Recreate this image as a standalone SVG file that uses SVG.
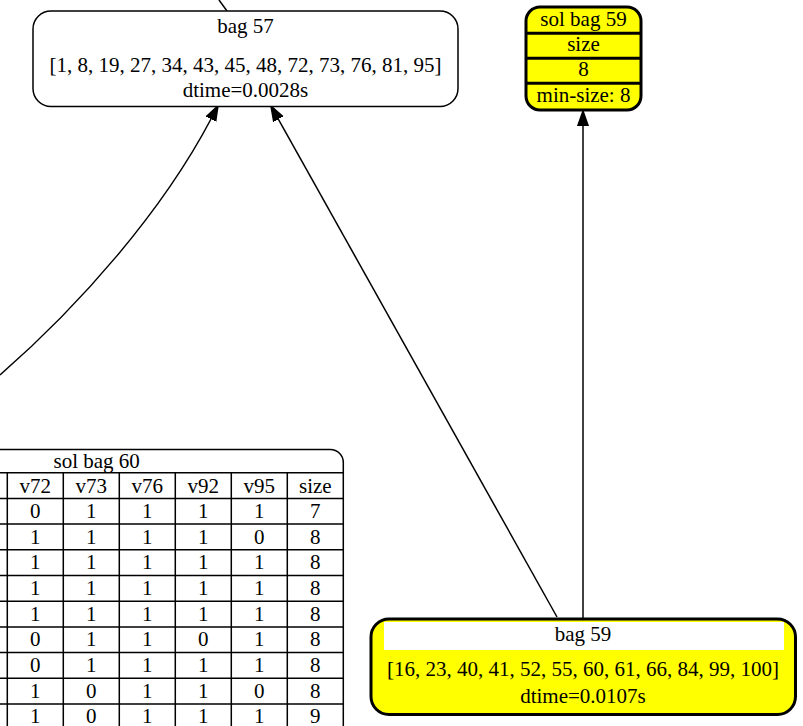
<svg xmlns="http://www.w3.org/2000/svg" width="803" height="726" viewBox="0 0 803 726">
<style>
text{font-family:"Liberation Serif","Times New Roman",serif;font-size:21px;fill:#000;text-anchor:middle}
.edge{fill:none;stroke:#000;stroke-width:1.5}
.thin{fill:#fff;stroke:#000;stroke-width:1.5}
.thick{fill:#ffff00;stroke:#000;stroke-width:3}
.grid{stroke:#000;stroke-width:1.5;fill:none}
.sep{stroke:#000;stroke-width:3}
</style>
<defs>
<marker id="arr" markerUnits="userSpaceOnUse" viewBox="0 -7 17 14" refX="0" refY="0" markerWidth="17" markerHeight="14" orient="auto">
<path d="M0,-5.25 L15,0 L0,5.25 Z" fill="#000" stroke="#000" stroke-width="1.5"/>
</marker>
</defs>
<rect width="803" height="726" fill="#fff"/>
<g id="edges">
<path class="edge" d="M219,0 L227,11"/>
<path class="edge" d="M0,375 C80,305 162,212 211,119" marker-end="url(#arr)"/>
<path class="edge" d="M557,617 L278.3,119.1" marker-end="url(#arr)"/>
<path class="edge" d="M583,618 L583,126" marker-end="url(#arr)"/>
</g>
<g id="bag57">
<rect class="thin" x="33" y="11" width="425" height="95.5" rx="18" ry="18"/>
<text x="245.5" y="33.3">bag 57</text>
<text x="245.5" y="71.5">[1, 8, 19, 27, 34, 43, 45, 48, 72, 73, 76, 81, 95]</text>
<text x="245.5" y="96.7">dtime=0.0028s</text>
</g>
<g id="solbag59">
<rect class="thick" x="526" y="7" width="115" height="103" rx="14" ry="14"/>
<line class="sep" x1="526" y1="33.3" x2="641" y2="33.3"/>
<line class="sep" x1="526" y1="58.3" x2="641" y2="58.3"/>
<line class="sep" x1="526" y1="83.3" x2="641" y2="83.3"/>
<text x="583.5" y="26">sol bag 59</text>
<text x="583.5" y="50.7">size</text>
<text x="583.5" y="76">8</text>
<text x="583.5" y="101.7">min-size: 8</text>
</g>
<g id="bag59">
<rect class="thick" x="371" y="619" width="424.5" height="95.5" rx="18" ry="18"/>
<rect x="384" y="622" width="400" height="28" fill="#fff"/>
<text x="583" y="640.7">bag 59</text>
<text x="583" y="676">[16, 23, 40, 41, 52, 55, 60, 61, 66, 84, 99, 100]</text>
<text x="583" y="703.3">dtime=0.0107s</text>
</g>
<g id="solbag60">
<path class="grid" d="M-5,449.5 H330.3 A13,13 0 0 1 343.3,462.5 V730"/>
<path class="grid" d="M-5,472.7 H343.3 M-5,498.4 H343.3 M-5,524.1 H343.3 M-5,549.8 H343.3 M-5,575.5 H343.3 M-5,601.2 H343.3 M-5,626.9 H343.3 M-5,652.6 H343.3 M-5,678.3 H343.3 M-5,704 H343.3"/>
<path class="grid" d="M7.3,472.7 V730 M63.3,472.7 V730 M119.3,472.7 V730 M175.3,472.7 V730 M231.3,472.7 V730 M287.3,472.7 V730"/>
<text x="96.7" y="467.5">sol bag 60</text>
<g>
<text x="35.3" y="492.5">v72</text><text x="91.3" y="492.5">v73</text><text x="147.3" y="492.5">v76</text><text x="203.3" y="492.5">v92</text><text x="259.3" y="492.5">v95</text><text x="315.3" y="492.5">size</text>
</g>
<g>
<text x="35.3" y="517.8">0</text><text x="91.3" y="517.8">1</text><text x="147.3" y="517.8">1</text><text x="203.3" y="517.8">1</text><text x="259.3" y="517.8">1</text><text x="315.3" y="517.8">7</text>
<text x="35.3" y="543.5">1</text><text x="91.3" y="543.5">1</text><text x="147.3" y="543.5">1</text><text x="203.3" y="543.5">1</text><text x="259.3" y="543.5">0</text><text x="315.3" y="543.5">8</text>
<text x="35.3" y="569.2">1</text><text x="91.3" y="569.2">1</text><text x="147.3" y="569.2">1</text><text x="203.3" y="569.2">1</text><text x="259.3" y="569.2">1</text><text x="315.3" y="569.2">8</text>
<text x="35.3" y="594.9">1</text><text x="91.3" y="594.9">1</text><text x="147.3" y="594.9">1</text><text x="203.3" y="594.9">1</text><text x="259.3" y="594.9">1</text><text x="315.3" y="594.9">8</text>
<text x="35.3" y="620.6">1</text><text x="91.3" y="620.6">1</text><text x="147.3" y="620.6">1</text><text x="203.3" y="620.6">1</text><text x="259.3" y="620.6">1</text><text x="315.3" y="620.6">8</text>
<text x="35.3" y="646.3">0</text><text x="91.3" y="646.3">1</text><text x="147.3" y="646.3">1</text><text x="203.3" y="646.3">0</text><text x="259.3" y="646.3">1</text><text x="315.3" y="646.3">8</text>
<text x="35.3" y="672">0</text><text x="91.3" y="672">1</text><text x="147.3" y="672">1</text><text x="203.3" y="672">1</text><text x="259.3" y="672">1</text><text x="315.3" y="672">8</text>
<text x="35.3" y="697.7">1</text><text x="91.3" y="697.7">0</text><text x="147.3" y="697.7">1</text><text x="203.3" y="697.7">1</text><text x="259.3" y="697.7">0</text><text x="315.3" y="697.7">8</text>
<text x="35.3" y="723.4">1</text><text x="91.3" y="723.4">0</text><text x="147.3" y="723.4">1</text><text x="203.3" y="723.4">1</text><text x="259.3" y="723.4">1</text><text x="315.3" y="723.4">9</text>
</g>
</g>
</svg>
